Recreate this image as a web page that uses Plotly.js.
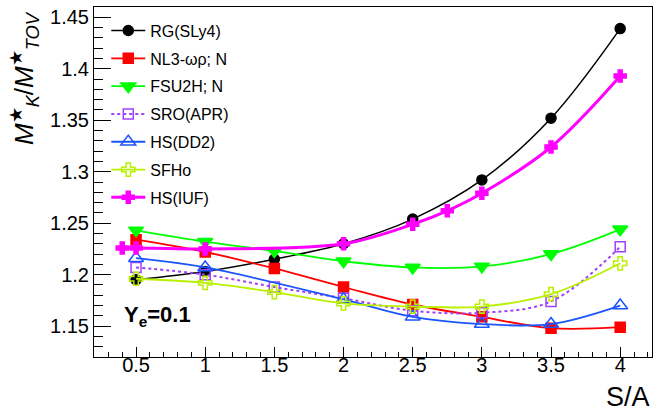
<!DOCTYPE html>
<html>
<head>
<meta charset="utf-8">
<script src="https://cdn.plot.ly/plotly-3.0.1.min.js"></script>
<style>html,body{margin:0;padding:0;background:#fff;}#chart{width:654px;height:413px;}</style>
</head>
<body>
<div id="chart"></div>
<script>
// Data
const xAll = [0.5, 1, 1.5, 2, 2.5, 3, 3.5, 4];

const rgSLy4 = [1.195, 1.203, 1.215, 1.230, 1.254, 1.292, 1.352, 1.439];
const nl3wr  = [1.234, 1.222, 1.206, 1.188, 1.171, 1.159, 1.148, 1.149];
const fsu2h  = [1.243, 1.232, 1.223, 1.213, 1.207, 1.208, 1.220, 1.244];
const sroAPR = [1.207, 1.200, 1.188, 1.177, 1.165, 1.163, 1.174, 1.227];
const sfho   = [1.196, 1.192, 1.183, 1.172, 1.169, 1.169, 1.181, 1.211];

const xDD2   = [0.5, 1, 2, 2.5, 3, 3.5, 4];
const hsDD2  = [1.216, 1.207, 1.176, 1.159, 1.152, 1.152, 1.170];

const xIUF   = [0.4, 0.5, 1, 2, 2.5, 2.75, 3, 3.5, 4];
const hsIUF  = [1.226, 1.226, 1.225, 1.230, 1.249, 1.262, 1.279, 1.324, 1.393];

const names = ["RG(SLy4)", "NL3-ωρ; N", "FSU2H; N", "SRO(APR)", "HS(DD2)", "SFHo", "HS(IUF)"];
const xTicks = [0.5, 1, 1.5, 2, 2.5, 3, 3.5, 4];
const yTicks = [1.15, 1.2, 1.25, 1.3, 1.35, 1.4, 1.45];

const FONT = "Liberation Sans, Arial, Helvetica, sans-serif";

function tr(x, y, name, color, width, dash, symbol, size) {
  return {
    x: x, y: y, name: name, type: "scatter", mode: "lines+markers",
    legendgroup: name,
    line: {color: color, width: width, dash: dash, shape: "spline", smoothing: 1},
    marker: {color: color, symbol: symbol, size: size, line: {color: color, width: 1.5}}
  };
}

const data = [
  tr(xAll, rgSLy4, names[0], "#000000", 1.5, "solid", "circle", 10),
  tr(xAll, nl3wr,  names[1], "#ff0000", 1.8, "solid", "square", 10),
  tr(xAll, fsu2h,  names[2], "#00ff00", 1.8, "solid", "triangle-down", 13),
  tr(xAll, sroAPR, names[3], "#a040ff", 2,   "dot",   "square-open", 10),
  tr(xDD2, hsDD2,  names[4], "#1a55ff", 1.8, "solid", "triangle-up-open", 13),
  tr(xAll, sfho,   names[5], "#b8f000", 1.8, "solid", "cross-open", 11),
  tr(xIUF, hsIUF,  names[6], "#ff00ff", 3,   "solid", "cross", 10)
];

const layout = {
  width: 654, height: 413,
  margin: {l: 94, r: 2, t: 7, b: 56, pad: 0},
  paper_bgcolor: "#ffffff", plot_bgcolor: "#ffffff",
  font: {family: FONT, color: "#000"},
  showlegend: true,
  legend: {
    x: 0.022, y: 0.981, xanchor: "left", yanchor: "top",
    bgcolor: "rgba(0,0,0,0)", borderwidth: 0,
    font: {family: FONT, size: 16, color: "#000"},
    traceorder: "grouped", tracegroupgap: 4, itemwidth: 34
  },
  xaxis: {
    range: [0.196, 4.23],
    tickvals: xTicks, ticktext: xTicks.map(String),
    ticks: "inside", ticklen: 10, tickwidth: 1, tickcolor: "#000",
    ticklabelstandoff: -10,
    minor: {ticks: "inside", dtick: 0.1, ticklen: 5, tickcolor: "#000", showgrid: false},
    showline: true, linecolor: "#000", linewidth: 1, mirror: true,
    showgrid: false, zeroline: false,
    tickfont: {family: FONT, size: 20, color: "#000"}
  },
  yaxis: {
    range: [1.12, 1.46],
    tickvals: yTicks, ticktext: yTicks.map(v => String(v)),
    ticks: "inside", ticklen: 17, tickwidth: 1, tickcolor: "#000",
    minor: {ticks: "inside", dtick: 0.01, ticklen: 9, tickcolor: "#000", showgrid: false},
    showline: true, linecolor: "#000", linewidth: 1, mirror: true,
    showgrid: false, zeroline: false,
    tickfont: {family: FONT, size: 20, color: "#000"}
  },
  annotations: [
    {text: "<b>Y<sub>e</sub>=0.1</b>", xref: "paper", yref: "paper", x: 0.05, y: 0.117,
     xanchor: "left", yanchor: "middle", showarrow: false,
     font: {family: FONT, size: 22, color: "#000"}},
    {text: "S/A", xref: "paper", yref: "paper", x: 1.0, y: -0.114,
     xanchor: "right", yanchor: "middle", showarrow: false,
     font: {family: FONT, size: 27, color: "#000"}},
    {text: "<i>M</i><sup>★</sup><sub><i>K</i></sub>/<i>M</i><sup>★</sup><sub><i>TOV</i></sub>",
     xref: "paper", yref: "paper", x: -0.125, y: 0.995, textangle: -90,
     xanchor: "center", yanchor: "top", showarrow: false,
     font: {family: FONT, size: 26, color: "#000"}}
  ]
};

Plotly.newPlot("chart", data, layout, {displayModeBar: false, staticPlot: true});
</script>
</body>
</html>
